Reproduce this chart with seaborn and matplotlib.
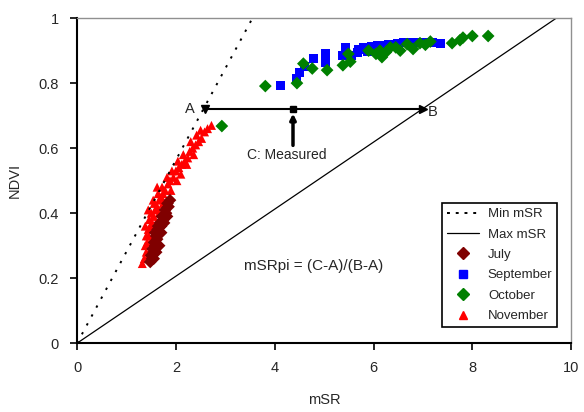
import matplotlib
matplotlib.use("Agg")
import matplotlib.pyplot as plt
from matplotlib.lines import Line2D
import pandas as pd
import seaborn as sns

# ---- data ----
july_x = [1.48, 1.52, 1.50, 1.55, 1.53, 1.58, 1.56, 1.62, 1.60, 1.65,
          1.63, 1.70, 1.68, 1.74, 1.72, 1.80, 1.78, 1.85, 1.83, 1.88,
          1.55, 1.60, 1.66, 1.58, 1.64, 1.70, 1.76, 1.82]
july_y = [0.25, 0.26, 0.27, 0.28, 0.29, 0.30, 0.31, 0.32, 0.33, 0.34,
          0.35, 0.36, 0.37, 0.38, 0.39, 0.40, 0.41, 0.42, 0.43, 0.44,
          0.26, 0.28, 0.30, 0.34, 0.36, 0.34, 0.37, 0.39]

sep_x = [4.11, 4.45, 4.51, 4.60, 4.78, 5.02, 5.02, 5.38, 5.43, 5.55,
         5.67, 5.79, 5.87, 6.00, 6.09, 6.20, 6.30, 6.48, 6.60, 6.75,
         6.90, 7.05, 7.20, 7.35, 5.70, 5.95, 6.15, 6.40]
sep_y = [0.794, 0.815, 0.834, 0.850, 0.877, 0.865, 0.892, 0.886, 0.911, 0.885,
         0.895, 0.910, 0.897, 0.905, 0.917, 0.915, 0.920, 0.923, 0.925, 0.925,
         0.925, 0.925, 0.925, 0.923, 0.905, 0.912, 0.908, 0.915]

oct_x = [2.93, 3.81, 4.45, 4.58, 4.76, 5.06, 5.38, 5.49, 5.53, 5.90,
         6.13, 6.17, 6.34, 6.54, 6.68, 6.80, 6.94, 7.15, 7.59, 7.75,
         7.81, 8.00, 8.32, 6.05, 6.25, 6.45, 7.05]
oct_y = [0.668, 0.791, 0.800, 0.860, 0.845, 0.840, 0.855, 0.890, 0.866, 0.900,
         0.900, 0.880, 0.910, 0.900, 0.920, 0.905, 0.923, 0.928, 0.923, 0.932,
         0.940, 0.945, 0.945, 0.890, 0.895, 0.910, 0.918]

nov_x = [1.32, 1.36, 1.40, 1.38, 1.42, 1.45, 1.40, 1.44, 1.48, 1.52,
         1.46, 1.55, 1.50, 1.58, 1.62, 1.56, 1.66, 1.70, 1.64, 1.74,
         1.78, 1.72, 1.84, 1.88, 1.82, 1.95, 1.92, 2.00, 2.06, 2.12,
         2.04, 2.18, 2.24, 2.15, 2.28, 2.34, 2.40, 2.30, 2.46, 2.52,
         2.42, 2.58, 2.50, 2.64, 2.72, 1.45, 1.52, 1.60, 1.66, 1.74,
         1.90, 2.02, 2.10, 2.22, 2.36, 1.38, 1.44, 1.54, 1.62]
nov_y = [0.245, 0.26, 0.28, 0.30, 0.31, 0.33, 0.33, 0.35, 0.36, 0.37,
         0.38, 0.39, 0.40, 0.41, 0.42, 0.43, 0.44, 0.45, 0.46, 0.46,
         0.47, 0.48, 0.49, 0.50, 0.51, 0.51, 0.53, 0.53, 0.54, 0.55,
         0.56, 0.56, 0.57, 0.58, 0.59, 0.60, 0.61, 0.62, 0.62, 0.63,
         0.64, 0.65, 0.655, 0.66, 0.67, 0.27, 0.32, 0.37, 0.40, 0.43,
         0.47, 0.50, 0.52, 0.55, 0.58, 0.36, 0.41, 0.44, 0.48]

min_line_x = [0, 3.55]
min_line_y = [0, 1]
max_line_x = [0, 9.7]
max_line_y = [0, 1]

a_x, c_x, b_x, abc_y = 2.59, 4.37, 7.0, 0.72

months = ["July", "September", "October", "November"]
colors = {"July": "#800000", "September": "#0000ff",
          "October": "#008000", "November": "#ff0000"}
markers = {"July": "D", "September": "s", "October": "D", "November": "^"}

# drawing order: November underneath, July on top of it
df = pd.concat([
    pd.DataFrame({"mSR": nov_x, "NDVI": nov_y, "Month": "November"}),
    pd.DataFrame({"mSR": sep_x, "NDVI": sep_y, "Month": "September"}),
    pd.DataFrame({"mSR": oct_x, "NDVI": oct_y, "Month": "October"}),
    pd.DataFrame({"mSR": july_x, "NDVI": july_y, "Month": "July"}),
])

sns.set_style("ticks")
plt.rcParams["font.family"] = ["Liberation Sans", "DejaVu Sans"]

fig = plt.figure(figsize=(5.84, 4.12), dpi=100)
ax = fig.add_axes([0.132, 0.167, 0.846, 0.789])

ax.plot(min_line_x, min_line_y, color="black", linestyle=(0, (1.2, 4)), lw=1.4)
ax.plot(max_line_x, max_line_y, color="black", lw=0.9)

sns.scatterplot(data=df, x="mSR", y="NDVI", hue="Month", style="Month",
                palette=colors, markers=markers, hue_order=months,
                style_order=months, s=42, linewidth=0, legend=False, ax=ax)

# A - C - B construction
ax.plot([a_x, b_x], [abc_y, abc_y], color="black", lw=1.5)
ax.plot([a_x], [abc_y], marker="v", color="black", ms=6)
ax.plot([c_x], [abc_y], marker="s", color="black", ms=5)
ax.plot([b_x], [abc_y], marker=">", color="black", ms=6)
ax.annotate("", xy=(c_x, abc_y - 0.005), xytext=(c_x, 0.60),
            arrowprops=dict(arrowstyle="-|>", color="black", lw=2.5,
                            mutation_scale=8))
ax.text(a_x - 0.2, abc_y, "A", ha="right", va="center", fontsize=10.5)
ax.text(b_x + 0.1, abc_y - 0.01, "B", ha="left", va="center", fontsize=10.5)
ax.text(4.25, 0.578, "C: Measured", ha="center", va="center", fontsize=10)
ax.text(4.78, 0.236, "mSRpi = (C-A)/(B-A)", ha="center", va="center",
        fontsize=11)

ax.set_xlim(0, 10)
ax.set_ylim(0, 1)
ax.set_xticks([0, 2, 4, 6, 8, 10])
ax.set_yticks([0, 0.2, 0.4, 0.6, 0.8, 1])
ax.set_yticklabels(["0", "0.2", "0.4", "0.6", "0.8", "1"])
ax.tick_params(direction="out", length=5, width=1.2, labelsize=10.5,
               color="black", pad=8)
ax.set_xlabel("mSR", fontsize=10.5, labelpad=13)
ax.set_ylabel("NDVI", fontsize=10.5, labelpad=12)

for side in ["left", "bottom"]:
    ax.spines[side].set_color("black")
    ax.spines[side].set_linewidth(1.5)
for side in ["top", "right"]:
    ax.spines[side].set_visible(True)
    ax.spines[side].set_color("#909090")
    ax.spines[side].set_linewidth(1.0)

handles = [
    Line2D([], [], color="black", linestyle=(0, (1.5, 3)), lw=1.4),
    Line2D([], [], color="black", lw=0.9),
]
for m in months:
    handles.append(Line2D([], [], linestyle="none", marker=markers[m],
                          color=colors[m], ms=6))
labels = ["Min mSR", "Max mSR"] + months
leg = ax.legend(handles, labels, loc="lower right",
                bbox_to_anchor=(0.985, 0.03), fontsize=9.5, frameon=True,
                fancybox=False, edgecolor="black", framealpha=1,
                handlelength=2.4, labelspacing=0.62, borderpad=0.35,
                handletextpad=0.7)
leg.get_frame().set_linewidth(1.2)

fig.savefig("out.png", dpi=100)
